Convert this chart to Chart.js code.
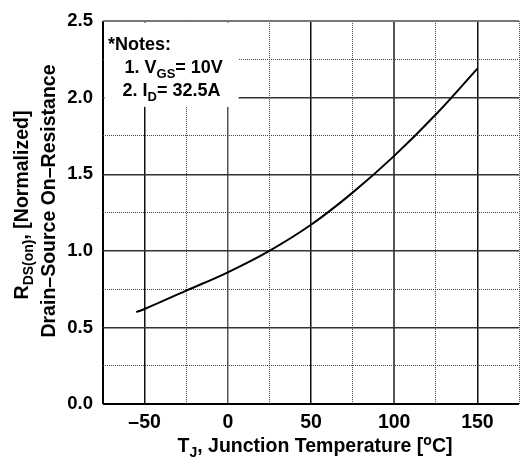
<!DOCTYPE html>
<html>
<head>
<meta charset="utf-8">
<script src="https://cdn.jsdelivr.net/npm/chart.js@4/dist/chart.umd.min.js"></script>
<style>
  html, body { margin: 0; padding: 0; background: #fff; overflow: hidden; }
  #wrap { width: 526px; height: 457px; }
</style>
</head>
<body>
<div id="wrap"><canvas id="rds"></canvas></div>
<script>
"use strict";

// normalized on-resistance vs junction temperature
var tempC   = [-55, -50, -25, 0, 25, 50, 75, 100, 125, 150];
var rdsNorm = [0.60, 0.62, 0.74, 0.86, 1.00, 1.17, 1.38, 1.62, 1.89, 2.19];

var xTickLabels = [-50, 0, 50, 100, 150];
var yTickLabels = [0.0, 0.5, 1.0, 1.5, 2.0, 2.5];

var FONT = '"Liberation Sans", Arial, sans-serif';

const $ = id => document.getElementById(id);

var isMajor = function(list, v) {
  for (var i = 0; i < list.length; i++) {
    if (Math.abs(list[i] - v) < 1e-6) return true;
  }
  return false;
};

// draws a run of text pieces, some of them subscript / superscript
function drawRich(ctx, parts, x, y, size) {
  var cx = x;
  for (var i = 0; i < parts.length; i++) {
    var p = parts[i];
    var fs = p.sub || p.sup ? Math.round(size * 0.72) : size;
    var dy = p.sub ? size * 0.28 : (p.sup ? -size * 0.38 : 0);
    ctx.font = "bold " + fs + "px " + FONT;
    ctx.fillText(p.t, cx, y + dy);
    cx += ctx.measureText(p.t).width;
  }
  return cx - x;
}

function richWidth(ctx, parts, size) {
  var w = 0;
  for (var i = 0; i < parts.length; i++) {
    var p = parts[i];
    var fs = p.sub || p.sup ? Math.round(size * 0.72) : size;
    ctx.font = "bold " + fs + "px " + FONT;
    w += ctx.measureText(p.t).width;
  }
  return w;
}

var notesBox = {
  id: "notesBox",
  beforeDatasetsDraw: function(chart) {
    var ctx = chart.ctx, xs = chart.scales.x, ys = chart.scales.y;
    var l = xs.getPixelForValue(-75) + 1.5;
    var r = xs.getPixelForValue(6.5);
    var t = ys.getPixelForValue(2.5) + 1.5;
    var b = ys.getPixelForValue(1.94);
    ctx.save();
    ctx.fillStyle = "#fff";
    ctx.fillRect(l, t, r - l, b - t);
    ctx.fillStyle = "#000";
    ctx.textBaseline = "alphabetic";
    ctx.textAlign = "left";
    drawRich(ctx, [{t: "*Notes:"}], l + 3.5, t + 27, 18);
    drawRich(ctx, [{t: "1. V"}, {t: "GS", sub: true}, {t: "= 10V"}], l + 20, t + 50, 18);
    drawRich(ctx, [{t: "2. I"}, {t: "D", sub: true}, {t: "= 32.5A"}], l + 18, t + 73, 18);
    ctx.restore();
  }
};

var axisTitles = {
  id: "axisTitles",
  afterDraw: function(chart) {
    var ctx = chart.ctx;
    ctx.save();
    ctx.fillStyle = "#000";
    ctx.textBaseline = "alphabetic";
    ctx.textAlign = "left";

    // x title
    var xParts = [{t: "T"}, {t: "J", sub: true}, {t: ", Junction Temperature ["}, {t: "o", sup: true}, {t: "C]"}];
    var w = richWidth(ctx, xParts, 19.5);
    drawRich(ctx, xParts, 315 - w / 2, 452, 19.5);

    // y title, two rotated lines centred on the plot height
    var l1 = [{t: "R"}, {t: "DS(on)", sub: true}, {t: ", [Normalized]"}];
    var l2 = [{t: "Drain\u2013Source On\u2013Resistance"}];
    var w1 = richWidth(ctx, l1, 19.5);
    var w2 = richWidth(ctx, l2, 19.5);
    ctx.save();
    ctx.translate(28, 205 + w1 / 2);
    ctx.rotate(-Math.PI / 2);
    drawRich(ctx, l1, 0, 0, 19.5);
    ctx.restore();
    ctx.save();
    ctx.translate(55, 201 + w2 / 2);
    ctx.rotate(-Math.PI / 2);
    drawRich(ctx, l2, 0, 0, 19.5);
    ctx.restore();
    ctx.restore();
  }
};

var ctx = $("rds").getContext("2d");

var rdsChart = new Chart(ctx, {
  type: "scatter",
  data: {
    datasets: [{
      data: tempC.map(function(t, i) { return {x: t, y: rdsNorm[i]}; }),
      showLine: true,
      borderColor: "#000",
      borderWidth: 2,
      pointRadius: 0,
      tension: 0.4,
      fill: false
    }]
  },
  options: {
    responsive: true,
    maintainAspectRatio: false,
    animation: false,
    layout: { padding: { top: 20, left: 0, right: 0, bottom: 0 } },
    plugins: {
      legend: { display: false },
      tooltip: { enabled: false }
    },
    scales: {
      x: {
        type: "linear",
        min: -75,
        max: 175,
        afterFit: function(s) { s.height = 53; },
        ticks: {
          stepSize: 25,
          padding: 7,
          color: "#000",
          maxRotation: 0,
          autoSkip: false,
          font: { family: FONT, size: 19.5, weight: "bold" },
          callback: function(v) {
            if (!isMajor(xTickLabels, v)) return "";
            return v < 0 ? "\u2013" + Math.abs(v) : String(v);
          }
        },
        border: {
          display: false,
          dash: function(c) {
            var v = c.tick ? c.tick.value : 0;
            return (isMajor(xTickLabels, v) || v === -75) ? [] : [1, 1];
          }
        },
        grid: {
          drawTicks: false,
          color: function(c) {
            var v = c.tick ? c.tick.value : 0;
            if (v === -75) return "#000";
            if (v === 100 || v === 0) return "#555";
            return isMajor(xTickLabels, v) ? "#111" : "#444";
          },
          lineWidth: function(c) {
            var v = c.tick ? c.tick.value : 0;
            if (v === -75) return 2;
            if (v === 100) return 2;
            return isMajor(xTickLabels, v) ? 1.5 : 1;
          }
        }
      },
      y: {
        min: 0,
        max: 2.5,
        afterFit: function(s) { s.width = 103; },
        ticks: {
          stepSize: 0.25,
          padding: 10,
          color: "#000",
          autoSkip: false,
          font: { family: FONT, size: 18.5, weight: "bold" },
          callback: function(v) {
            return isMajor(yTickLabels, v) ? v.toFixed(1) : "";
          }
        },
        border: {
          display: false,
          dash: function(c) {
            var v = c.tick ? c.tick.value : 0;
            return isMajor(yTickLabels, v) ? [] : [1, 1];
          }
        },
        grid: {
          drawTicks: false,
          color: function(c) {
            var v = c.tick ? c.tick.value : 0;
            if (v === 0) return "#000";
            if (v === 2.5) return "#777";
            return isMajor(yTickLabels, v) ? "#333" : "#444";
          },
          lineWidth: function(c) {
            var v = c.tick ? c.tick.value : 0;
            if (v === 0 || v === 2.5) return 2;
            return isMajor(yTickLabels, v) ? 1.5 : 1;
          }
        }
      }
    }
  },
  plugins: [notesBox, axisTitles]
});
</script>
</body>
</html>
